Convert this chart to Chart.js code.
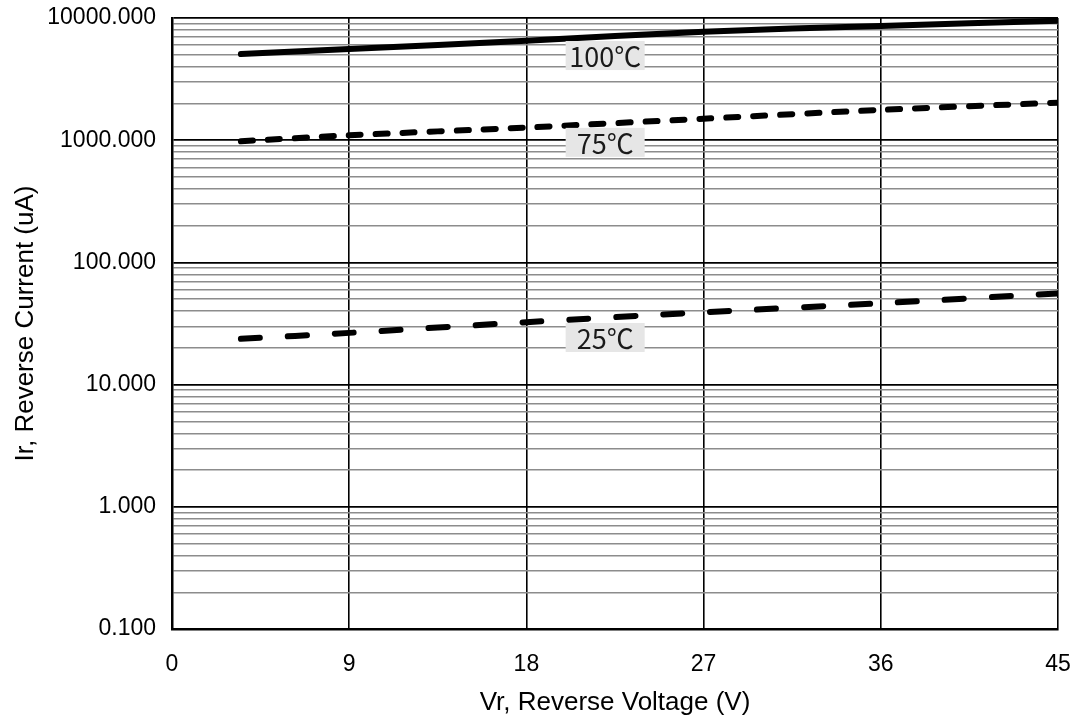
<!DOCTYPE html>
<html>
<head>
<meta charset="utf-8">
<script src="https://cdn.jsdelivr.net/npm/chart.js@4.4.1/dist/chart.umd.min.js"></script>
<style>
  html, body { margin: 0; padding: 0; background: #fff; }
  #wrap { width: 1078px; height: 715px; }
</style>
</head>
<body>
<div id="wrap"><canvas id="chart"></canvas></div>
<script>
// ---------- Data ----------
const voltage = [3.5, 9, 18, 27, 36, 45];
const current100 = [5070, 5570, 6520, 7730, 8610, 9500];
const current75 = [980, 1097, 1270, 1500, 1770, 2030];
const current25 = [23.7, 26.5, 32.4, 39.1, 46.3, 55.8];

const xTicks = [0, 9, 18, 27, 36, 45];
const decades = [0.1, 1, 10, 100, 1000, 10000];

const curveLabels = ["100℃", "75℃", "25℃"];
const labelX = [22, 22, 22];
const labelY = [4930, 960, 24.3];

// ---------- Helpers ----------
function pts(ys) { return voltage.map((v, i) => ({ x: v, y: ys[i] })) }

function isDecade(v) {
  return decades.some(d => Math.abs(v - d) < d * 1e-6);
}

// every 1..9 x 10^n between 0.1 and 10000
const yTicks = [];
for (let i = 0; i < decades.length; i++) {
  const d = decades[i];
  if (i === decades.length - 1) { yTicks.push(d); break; }
  for (let m = 1; m <= 9; m++) yTicks.push(+(m * d).toPrecision(6));
}

const FONT = '"Liberation Sans", Arial, sans-serif';

// ---------- Curve labels ----------
const curveLabelPlugin = {
  id: 'curveLabels',
  afterDatasetsDraw(chart) {
    const { ctx, scales: { x, y } } = chart;
    ctx.save();
    ctx.font = '27px "Noto Sans CJK SC", "Noto Sans", sans-serif';
    ctx.textAlign = 'center';
    ctx.textBaseline = 'middle';
    curveLabels.forEach((t, i) => {
      const cx = x.getPixelForValue(labelX[i]);
      const cy = y.getPixelForValue(labelY[i]);
      ctx.fillStyle = '#e6e6e6';
      ctx.fillRect(cx - 39.5, cy - 14.5, 79, 29);
      ctx.fillStyle = '#1a1a1a';
      ctx.fillText(t, cx, cy + 1);
    });
    ctx.restore();
  }
};

// ---------- Chart ----------
const lineStyle = { borderColor: '#000', borderWidth: 6, pointRadius: 0, fill: false, tension: 0.3, borderCapStyle: 'round' };

new Chart(document.getElementById('chart'), {
  type: 'line',
  data: {
    datasets: [
      { label: '100℃', data: pts(current100), ...lineStyle },
      { label: '75℃', data: pts(current75), ...lineStyle, borderDash: [12, 15] },
      { label: '25℃', data: pts(current25), ...lineStyle, borderDash: [19, 28] }
    ]
  },
  options: {
    responsive: true,
    maintainAspectRatio: false,
    animation: false,
    layout: { padding: { top: 18, right: 20, left: 0, bottom: 0 } },
    plugins: { legend: { display: false }, tooltip: { enabled: false } },
    scales: {
      x: {
        type: 'linear',
        min: 0, max: 45,
        afterBuildTicks: s => { s.ticks = xTicks.map(v => ({ value: v })) },
        afterFit: s => { s.height = 86; s.paddingLeft = 0; s.paddingRight = 0 },
        ticks: { color: '#000', padding: 22, font: { family: FONT, size: 23 } },
        grid: { color: '#000', lineWidth: 1.6, drawTicks: false },
        border: { color: '#000', width: 2.5 },
        title: {
          display: true, text: 'Vr, Reverse Voltage (V)', color: '#000',
          font: { family: FONT, size: 26 }, padding: { top: 0, bottom: -3 }
        }
      },
      y: {
        type: 'logarithmic',
        min: 0.1, max: 10000,
        afterBuildTicks: s => { s.ticks = yTicks.map(v => ({ value: v, major: isDecade(v) })) },
        afterFit: s => { s.width = 172; s.paddingTop = 0; s.paddingBottom = 0 },
        ticks: {
          color: '#000', padding: 16, autoSkip: false,
          font: { family: FONT, size: 23 },
          callback: v => isDecade(v) ? v.toFixed(3) : ''
        },
        grid: {
          drawTicks: false,
          color: c => isDecade(c.tick.value) ? '#000' : '#8c8c8c',
          lineWidth: c => isDecade(c.tick.value) ? 1.8 : 1.4
        },
        border: { color: '#000', width: 2.5 },
        title: {
          display: true, text: 'Ir, Reverse Current (uA)', color: '#000',
          font: { family: FONT, size: 26 }, padding: { top: 10, bottom: 0 }
        }
      }
    }
  },
  plugins: [curveLabelPlugin]
});
</script>
</body>
</html>
